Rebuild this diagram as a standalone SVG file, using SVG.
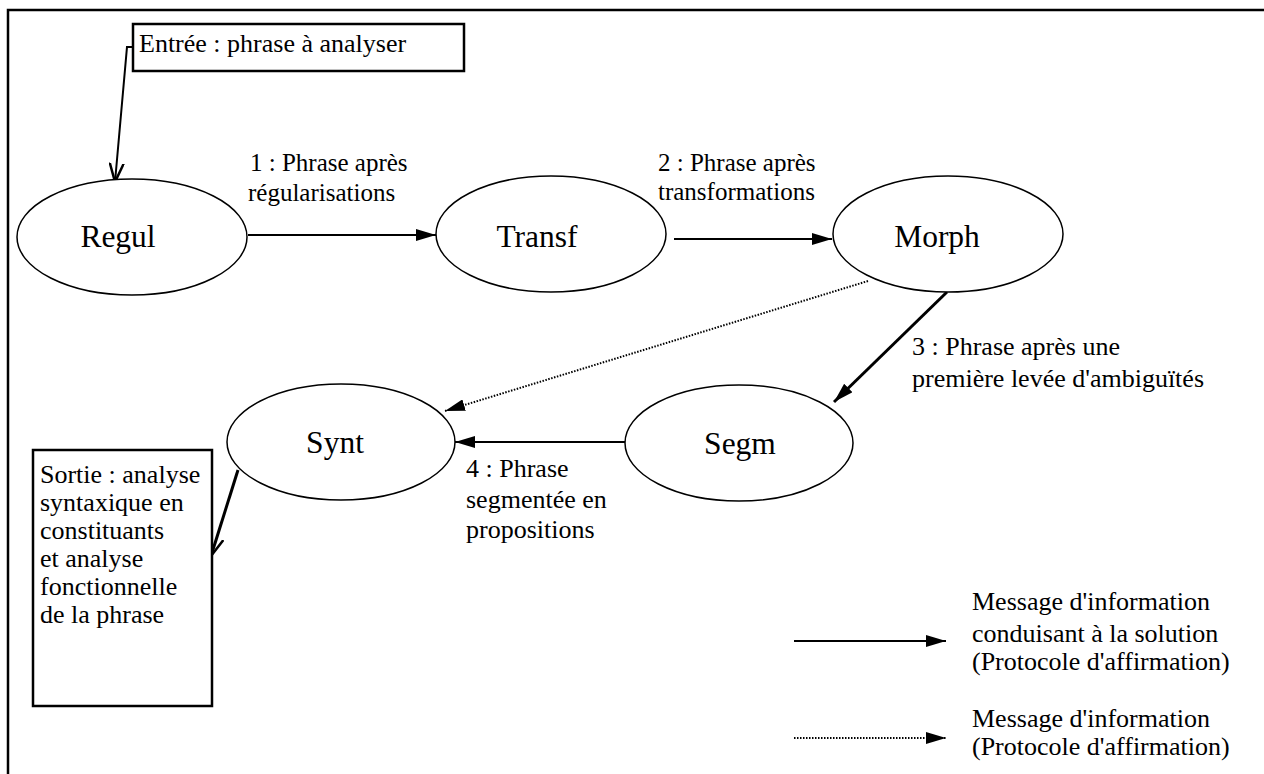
<svg xmlns="http://www.w3.org/2000/svg" width="1264" height="774" viewBox="0 0 1264 774">
<style>
text{font-family:"Liberation Serif","Times New Roman",serif;fill:#000}
.node{font-size:31.5px;text-anchor:middle}
.lbl{font-size:26px}
.ell{fill:#fff;stroke:#000;stroke-width:1.5}
.box{fill:#fff;stroke:#000;stroke-width:2.5}
.c{fill:none;stroke:#000;stroke-width:2}
.thick{fill:none;stroke:#000;stroke-width:3}
.dot{fill:none;stroke:#000;stroke-width:2;stroke-dasharray:1.5 1.5}
</style>
<defs>
<marker id="tri" viewBox="0 0 20 12" refX="20" refY="6" markerWidth="20" markerHeight="12" markerUnits="userSpaceOnUse" orient="auto">
<path d="M0,0 L20,6 L0,12 Z" fill="#000"/>
</marker>
<marker id="open" viewBox="0 0 20 16" refX="19" refY="8" markerWidth="20" markerHeight="16" markerUnits="userSpaceOnUse" orient="auto">
<path d="M0,1 L19,8 L0,15" fill="none" stroke="#000" stroke-width="2.5"/>
</marker>
</defs>
<rect width="1264" height="774" fill="#fff"/>
<g id="frame"><path d="M8,774 L8,10 L1264,10" fill="none" stroke="#000" stroke-width="2.5"/></g>
<g id="connectors">
<path class="c" d="M133,47 L127,47 L115,182" marker-end="url(#open)"/>
<path class="c" d="M248,235 L436,235" marker-end="url(#tri)"/>
<path class="c" d="M674,239 L832,239" marker-end="url(#tri)"/>
<path class="thick" d="M947,292 L834,402" marker-end="url(#tri)"/>
<path class="dot" d="M868,281 L445,411" marker-end="url(#tri)"/>
<path class="c" d="M625,442 L455,442" marker-end="url(#tri)"/>
<path class="thick" d="M238,470 L211,556" marker-end="url(#open)"/>
</g>
<g id="entree">
<rect class="box" x="133" y="24" width="331" height="47"/>
<text class="lbl" x="139" y="52">Entrée : phrase à analyser</text>
</g>
<g id="regul"><ellipse class="ell" cx="132" cy="237" rx="115" ry="58"/><text class="node" x="118" y="247">Regul</text></g>
<g id="transf"><ellipse class="ell" cx="551" cy="234" rx="115" ry="58"/><text class="node" x="537" y="247">Transf</text></g>
<g id="morph"><ellipse class="ell" cx="948" cy="234" rx="115" ry="58"/><text class="node" x="937" y="247">Morph</text></g>
<g id="synt"><ellipse class="ell" cx="341" cy="442" rx="114" ry="58"/><text class="node" x="335" y="453">Synt</text></g>
<g id="segm"><ellipse class="ell" cx="739" cy="443" rx="114" ry="58"/><text class="node" x="740" y="454">Segm</text></g>
<g id="sortie">
<rect class="box" x="33" y="450" width="179" height="256"/>
<text class="lbl" x="40" y="483">Sortie : analyse</text>
<text class="lbl" x="40" y="511">syntaxique en</text>
<text class="lbl" x="40" y="539">constituants</text>
<text class="lbl" x="40" y="567">et analyse</text>
<text class="lbl" x="40" y="595">fonctionnelle</text>
<text class="lbl" x="40" y="623">de la phrase</text>
</g>
<g id="labels">
<text class="lbl" x="250" y="171" style="font-size:25px">1 : Phrase après</text>
<text class="lbl" x="248" y="201" style="font-size:25px">régularisations</text>
<text class="lbl" x="658" y="171" style="font-size:25px">2 : Phrase après</text>
<text class="lbl" x="658" y="200" style="font-size:25px">transformations</text>
<text class="lbl" x="912" y="355">3 : Phrase après une</text>
<text class="lbl" x="912" y="387">première levée d'ambiguïtés</text>
<text class="lbl" x="466" y="477">4 : Phrase</text>
<text class="lbl" x="466" y="508">segmentée en</text>
<text class="lbl" x="466" y="538">propositions</text>
</g>
<g id="legend">
<path class="c" d="M794,641 L946,641" marker-end="url(#tri)"/>
<path class="dot" d="M794,738 L946,738" marker-end="url(#tri)"/>
<text class="lbl" x="972" y="610">Message d'information</text>
<text class="lbl" x="972" y="642">conduisant à la solution</text>
<text class="lbl" x="972" y="670">(Protocole d'affirmation)</text>
<text class="lbl" x="972" y="727">Message d'information</text>
<text class="lbl" x="972" y="755">(Protocole d'affirmation)</text>
</g>
</svg>
